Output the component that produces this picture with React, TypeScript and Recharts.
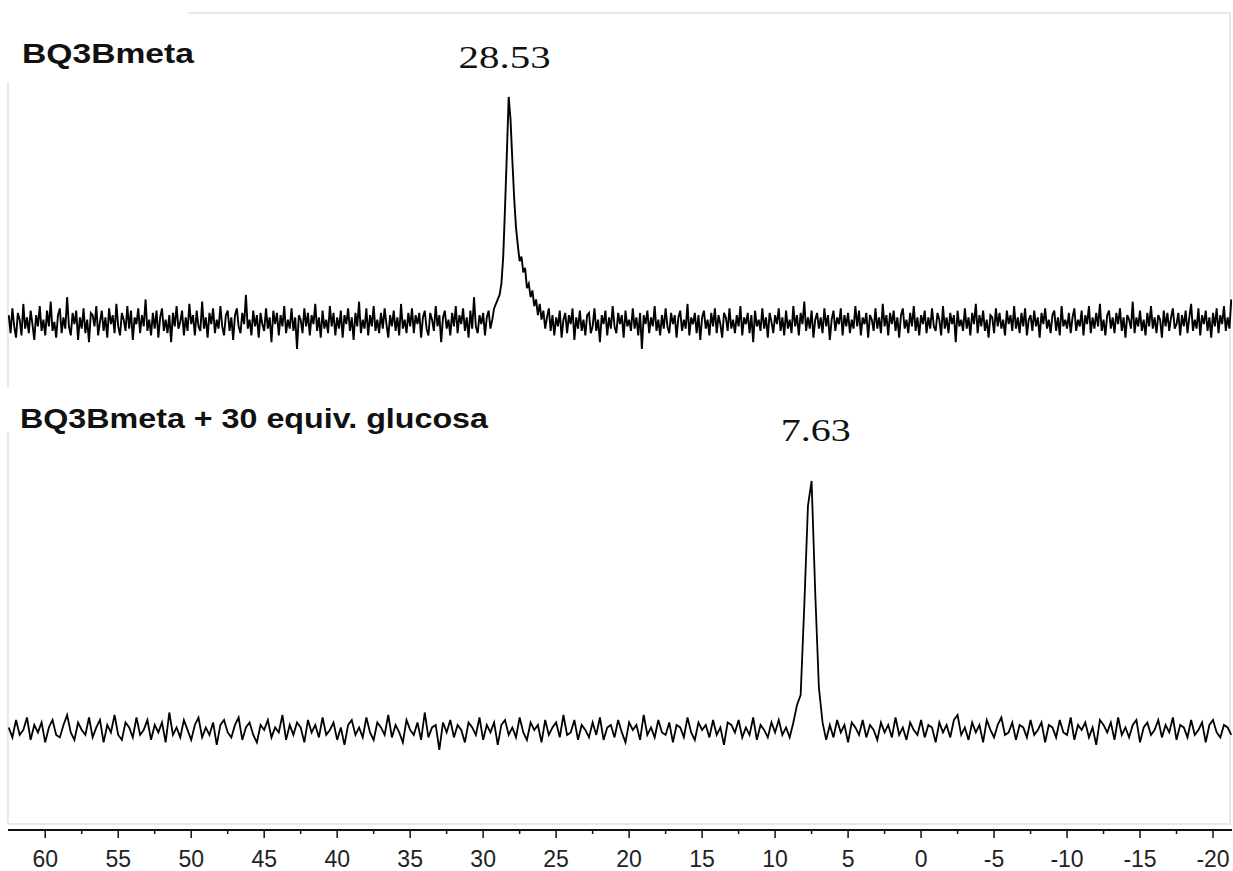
import React from 'react';
import { LineChart, Line, XAxis, YAxis, ReferenceDot } from 'recharts';

// chemical shift sampling grids (ppm)
const topShiftStart = 62.5;
const topShiftStep = 0.125;
const bottomShiftStart = 62.5;
const bottomShiftStep = 0.25;

const majorTicks = [60, 55, 50, 45, 40, 35, 30, 25, 20, 15, 10, 5, 0, -5, -10, -15, -20];
const minorTicks = [57.5, 52.5, 47.5, 42.5, 37.5, 32.5, 27.5, 22.5, 17.5, 12.5, 7.5, 2.5, -2.5, -7.5, -12.5, -17.5];

const traceLabels = ['BQ3Bmeta', 'BQ3Bmeta + 30 equiv. glucosa'];
const peakShifts = [28.53, 7.63];
const peakTexts = ['28.53', '7.63'];

// BQ3Bmeta (upper trace), relative intensity
const topIntensity = [
  3, -5, 6, -2, -7, 4, 1, -6, 8, -3, 2, -5, 5, -1, -8, 3, -2, 7, -4, 1,
  -6, 5, -2, 9, -4, 0, -7, 3, 6, -5, 2, -3, 11, -2, -6, 4, -1, 5, -8, 2,
  -3, 6, -5, 1, -9, 4, 3, -2, 7, -6, 0, 5, -4, 2, -7, 6, -1, 3, -5, 8,
  -2, -6, 4, 1, -4, 7, -3, 5, -8, 2, -1, 6, -5, 3, -2, 10, -4, 1, -6, 4,
  -3, 5, -7, 2, 6, -4, 1, -5, 3, -9, 4, -2, 7, -3, 0, 5, -6, 2, -4, 8,
  -1, 3, -6, 5, -2, -4, 9, -3, 2, -7, 4, -1, 6, -5, 1, -3, 7, -2, -6, 3,
  5, -4, 2, -8, 3, 6, -2, -5, 4, -1, 12, -3, 1, -6, 5, -2, 3, -7, 4, -1,
  -4, 6, -3, 2, -9, 5, -1, 4, -6, 3, -2, 7, -5, 1, -3, 6, -4, 2, -12, 3,
  1, -5, 6, -2, 4, -6, 3, -1, 8, -4, 2, -7, 5, -3, 1, -5, 7, -2, 4, -6,
  2, -3, 5, -7, 3, -1, 6, -4, 2, -8, 4, -2, 9, -5, 1, -3, 6, -6, 3, -2,
  7, -4, 1, -5, 4, -3, 6, -1, -7, 3, -2, 5, -4, 2, -6, 8, -3, 1, -5, 4,
  -2, 6, -5, 3, -1, 4, -7, 2, 5, -3, -6, 4, 1, -4, 7, -2, 3, -9, 2, 5,
  -3, 1, -6, 4, -2, 7, -5, 3, -1, 6, -4, 2, -7, 5, -3, 11, -2, -5, 3, -1,
  4, -6, 2, 5, -3, 1, 6, 8, 10, 12, 17, 29, 51, 75, 100, 90, 72, 55, 42, 34,
  27, 29, 22, 24, 15, 17, 11, 14, 7, 10, 3, 8, 1, 5, -3, 2, 6, -4, 3, -6,
  2, -2, 5, -7, 1, 4, -5, 3, -1, 6, -8, 2, -3, 5, -4, 1, -6, 3, 4, -5,
  -2, 6, -4, 1, -9, 3, -1, 5, -6, 2, -3, 7, -2, -5, 4, -1, 3, -7, 5, -2,
  1, -4, 6, -3, 2, -6, 4, -12, 3, -1, 5, -5, 2, -2, 7, -4, 1, -6, 3, -3,
  6, -2, -5, 4, -1, 3, -7, 2, 5, -4, 1, -3, 8, -6, 2, -1, 4, -5, 3, -8,
  2, 5, -3, 1, -6, 4, -2, 6, -5, 3, -1, -7, 4, 2, -4, 6, -3, 1, -5, 3,
  -2, 7, -6, 2, -1, 4, -5, 3, -9, 5, -2, 1, -4, 6, -3, 2, -7, 4, 0, -5,
  3, -1, 6, -4, 2, -6, 5, -3, 1, -5, 7, -2, 3, -6, 4, -1, 9, -4, 2, -3,
  5, -7, 1, 4, -3, 2, -5, 6, -2, 3, -8, 1, 5, -4, 2, -1, 6, -6, 3, -2,
  4, -5, 1, -3, 7, -2, 5, -6, 2, -1, 4, -7, 3, 1, -4, 6, -3, 2, -5, 8,
  -2, 3, -6, 4, -1, 5, -4, 2, -7, 3, 6, -3, 1, -5, 4, -2, 7, -4, 2, -6,
  3, -1, 5, -5, 2, -3, 6, -2, -4, 4, 1, -6, 7, -3, 2, -5, 4, -1, 3, -9,
  5, -2, 1, -4, 6, -3, 2, -6, 4, -1, 8, -5, 3, -2, 5, -4, 1, -7, 3, 2,
  -5, 6, -2, 4, -3, 1, -6, 5, -1, 3, -4, 7, -3, 2, -5, 4, -2, 6, -6, 1,
  3, -4, 5, -2, 2, -7, 4, -1, 6, -3, 1, -5, 3, 5, -4, 2, -6, 7, -2, 1,
  -3, 4, -5, 2, 6, -4, 1, -2, 5, -6, 3, -1, 7, -5, 2, -3, 4, -2, 8, -4,
  1, -6, 3, 5, -3, 2, -5, 4, -1, 6, -4, 2, -7, 3, 1, -3, 9, -5, 2, -2,
  5, -4, 1, -6, 4, -2, 7, -3, 2, -5, 3, 1, -7, 5, -2, 4, -4, 2, 6, -3,
  -1, 4, -6, 3, -2, 5, -5, 2, 8, -4, 1, -3, 6, -6, 3, -1, 5, -4, 2, -7,
  4, -2, 6, -5, 3, -1, 7, -4, 2, -3, 10,
];

// BQ3Bmeta + 30 equiv. glucosa (lower trace), relative intensity
const bottomIntensity = [
  1, -3, 4, -2, 0, 5, -4, 2, -1, 3, -5, 1, 4, -2, -3, 2, 6, -1, -4, 3,
  0, -2, 5, -3, 1, 4, -5, 2, -1, 6, -2, -4, 3, 1, -3, 5, -2, 0, 4, -4,
  2, -1, 3, -5, 7, -2, 1, -3, 4, 0, -4, 2, 5, -3, 1, -2, 3, -6, 2, 4,
  -1, -3, 2, 5, -4, 1, 3, -2, -5, 2, 0, 4, -3, 1, -1, 6, -4, 2, -2, 3,
  1, -5, 4, -1, 2, -3, 5, -2, 0, 3, -4, 1, -6, 2, 4, -2, 1, -3, 5, -1,
  -4, 3, 1, -2, 6, -3, 2, -1, -5, 4, 0, -2, 3, -4, 7, -3, 1, 2, -8, 3,
  -1, 4, -3, 2, 0, -5, 3, 1, -2, 5, -4, 2, -1, 3, -6, 2, 4, -2, 1, -3,
  5, -1, -4, 3, 0, 2, -5, 4, -2, 1, 3, -3, 6, -2, -1, 4, -4, 2, 0, -3,
  3, -2, 5, -4, 1, 2, -3, 4, -1, -5, 3, 0, 2, -4, 6, -2, 1, -3, 4, -1,
  -2, 3, -5, 2, 1, -3, 5, -1, -4, 3, 0, 2, -3, 4, -2, 1, -6, 3, 2, -1,
  4, -3, 1, -2, 5, -4, 2, 0, -3, 3, -1, 4, -2, 1, -3, 3, 10, 14, 50, 90,
  100, 55, 17, 3, -4, 2, -3, 4, -1, 2, -5, 3, 1, -2, 4, -3, 2, 0, -4, 3,
  -1, 2, -3, 5, -2, 1, -4, 3, 0, -2, 4, -3, 2, 1, -5, 3, -1, 2, -3, 4,
  6, -2, 1, -4, 3, -1, 2, -5, 4, 0, -3, 2, 5, -2, -1, 3, -4, 2, 1, -3,
  4, -2, 0, 3, -5, 2, 1, -3, 4, -1, -2, 5, -4, 2, 0, 3, -3, 1, -6, 4,
  2, -1, 3, -4, 5, -2, 1, -3, 2, 4, -5, 1, 3, -2, 0, 4, -3, 2, -1, 5,
  -4, 2, 1, -3, 4, -2, 0, 3, -5, 2, 4, -1, -3, 2, 1, -2,
];

const topRows = topIntensity.map((v, i) => ({
  shift: Number((topShiftStart - i * topShiftStep).toFixed(3)),
  value: v,
}));
const bottomRows = bottomIntensity.map((v, i) => ({
  shift: Number((bottomShiftStart - i * bottomShiftStep).toFixed(3)),
  value: v,
}));

const allTicks = [...majorTicks, ...minorTicks].sort((a, b) => b - a);

const W = 1233;
const H = 871;

const AxisTick = (props: any) => {
  const { x, y, payload } = props;
  const isMajor = majorTicks.includes(payload.value);
  const axisY = y - 8;
  return (
    <g>
      <line x1={x} x2={x} y1={axisY} y2={axisY + (isMajor ? 8 : 4)} stroke="#111" strokeWidth={1.5} />
      {isMajor && (
        <text x={x} y={axisY + 37} textAnchor="middle" fontSize={23} fontFamily="Liberation Sans, Arial, sans-serif" fill="#222">
          {payload.value}
        </text>
      )}
    </g>
  );
};

const peakLabelStyle = [
  { dx: 0, dy: 29, width: 92 },
  { dx: 6, dy: 40, width: 70 },
];

const makePeakLabel = (idx: number) => (props: any) => {
  const vb = props.viewBox || {};
  const cx = (vb.x ?? 0) + (vb.width ?? 0) / 2;
  const cy = (vb.y ?? 0) + (vb.height ?? 0) / 2;
  const st = peakLabelStyle[idx];
  return (
    <text
      x={cx + st.dx}
      y={cy - st.dy}
      textAnchor="middle"
      fontSize={32}
      fontFamily="Liberation Serif, Times New Roman, serif"
      fill="#111"
      textLength={st.width}
      lengthAdjust="spacingAndGlyphs"
    >
      {peakTexts[idx]}
    </text>
  );
};

export default function App() {
  return (
    <div style={{ position: 'relative', width: W, height: H, background: '#fff', overflow: 'hidden' }}>
      <style>{'body{margin:0;}'}</style>
      <svg width={W} height={H} style={{ position: 'absolute', left: 0, top: 0 }}>
        <rect x={8} y={13} width={1222} height={811} fill="none" stroke="#e9e9e9" strokeWidth={2} />
      </svg>
      <div style={{ position: 'absolute', left: 0, top: 0 }}>
        <LineChart width={W} height={H} margin={{ top: 13, right: 1, bottom: 0, left: 8 }}>
          <XAxis
            dataKey="shift"
            type="number"
            domain={[-21.3, 62.55]}
            reversed
            allowDataOverflow
            ticks={allTicks}
            interval={0}
            tick={<AxisTick />}
            tickLine={false}
            tickSize={6}
            tickMargin={2}
            axisLine={{ stroke: '#111', strokeWidth: 2 }}
            height={41}
          />
          <YAxis yAxisId="top" hide domain={[-225.8, 137.3]} allowDataOverflow />
          <YAxis yAxisId="bottom" hide domain={[-40.2, 288]} allowDataOverflow />
          <Line
            yAxisId="top"
            data={topRows}
            dataKey="value"
            type="linear"
            stroke="#000"
            strokeWidth={1.9}
            dot={false}
            isAnimationActive={false}
          />
          <Line
            yAxisId="bottom"
            data={bottomRows}
            dataKey="value"
            type="linear"
            stroke="#000"
            strokeWidth={1.8}
            dot={false}
            isAnimationActive={false}
          />
          <ReferenceDot yAxisId="top" x={peakShifts[0]} y={100} r={1} fill="none" stroke="none" label={makePeakLabel(0)} />
          <ReferenceDot yAxisId="bottom" x={peakShifts[1]} y={100} r={1} fill="none" stroke="none" label={makePeakLabel(1)} />
        </LineChart>
      </div>
      <svg width={W} height={H} style={{ position: 'absolute', left: 0, top: 0, pointerEvents: 'none' }}>
        <rect x={0} y={0} width={188} height={82} fill="#fff" />
        <rect x={0} y={388} width={500} height={44} fill="#fff" />
        <text x={22} y={63} fontSize={28} fontWeight="bold" fontFamily="Liberation Sans, Arial, sans-serif" fill="#111" textLength={172} lengthAdjust="spacingAndGlyphs">
          {traceLabels[0]}
        </text>
        <text x={20} y={428} fontSize={28} fontWeight="bold" fontFamily="Liberation Sans, Arial, sans-serif" fill="#111" textLength={468} lengthAdjust="spacingAndGlyphs">
          {traceLabels[1]}
        </text>
      </svg>
    </div>
  );
}
